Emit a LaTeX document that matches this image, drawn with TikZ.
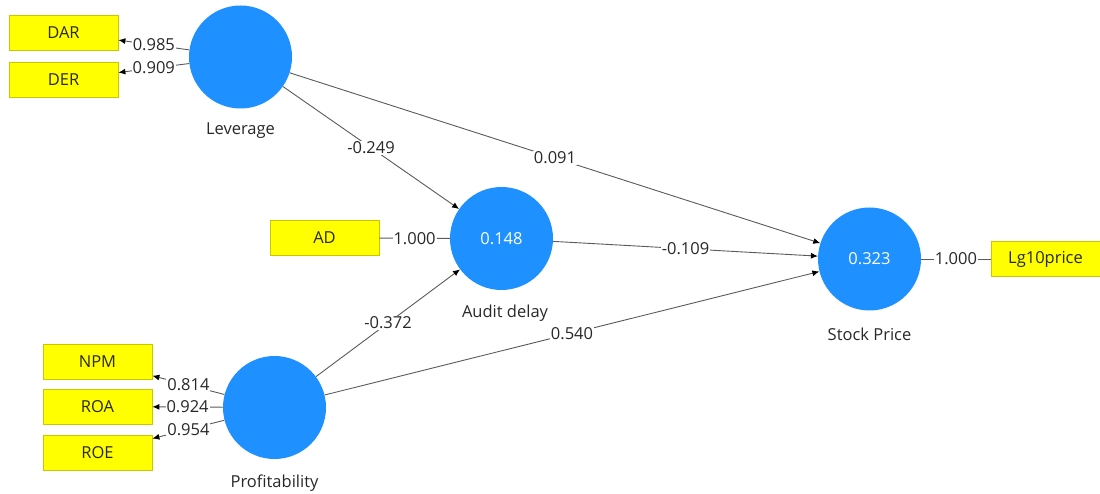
\documentclass[tikz,border=0pt]{standalone}
\usepackage{fontspec}
\setmainfont{Open Sans}
\usetikzlibrary{arrows.meta}
\definecolor{lvblue}{RGB}{30,144,255}
\definecolor{mvyellow}{RGB}{255,255,0}
\definecolor{mvborder}{RGB}{200,200,0}
\definecolor{edgegray}{RGB}{90,90,90}
\definecolor{txt}{RGB}{40,40,40}
\tikzset{
  latent/.style={circle, minimum size=103pt, inner sep=0pt, fill=lvblue, draw=none,
    text=white, font=\fontsize{16.5}{19}\selectfont},
  indicator/.style={rectangle, minimum width=109pt, minimum height=35pt, inner sep=0pt,
    fill=mvyellow, draw=mvborder, line width=0.8pt, text=txt, font=\fontsize{16.5}{19}\selectfont},
  caption/.style={text=txt, font=\fontsize{16.5}{19}\selectfont, inner sep=0pt},
  coef/.style={midway, fill=white, inner sep=1pt, text=txt, font=\fontsize{16.5}{19}\selectfont},
  path/.style={draw=edgegray, line width=0.9pt, -{Latex[length=7pt,width=6pt,color=black]}},
  link/.style={draw=edgegray, line width=0.9pt}
}
\begin{document}
\begin{tikzpicture}[x=1pt,y=-1pt]
\useasboundingbox (0,0) rectangle (1100,494);

% latent variables
\node[latent] (lev) at (240.5,57) {};
\node[latent] (aud) at (501.5,238.5) {0.148};
\node[latent] (stk) at (869.5,259) {0.323};
\node[latent] (prf) at (274.5,407.5) {};

\node[caption] (levc) at (240.5,131) {Leverage};
\node[caption] (audc) at (505,313) {Audit delay};
\node[caption] (stkc) at (869.5,334) {Stock Price};
\node[caption] (prfc) at (274.5,483) {Profitability};

% indicators
\node[indicator] (dar) at (63.5,32.5) {DAR};
\node[indicator] (der) at (63.5,79.5) {DER};
\node[indicator] (ad) at (324.5,238) {AD};
\node[indicator] (npm) at (97.5,361.5) {NPM};
\node[indicator] (roa) at (97.5,406.5) {ROA};
\node[indicator] (roe) at (97.5,452.5) {ROE};
\node[indicator] (lg) at (1045.5,259) {Lg10price};

% outer loadings
\draw[path] (lev) -- (dar) node[coef] {0.985};
\draw[path] (lev) -- (der) node[coef] {0.909};
\draw[path] (prf) -- (npm) node[coef] {0.814};
\draw[path] (prf) -- (roa) node[coef] {0.924};
\draw[path] (prf) -- (roe) node[coef] {0.954};
\draw[link] (ad) -- (aud) node[coef] {1.000};
\draw[link] (stk) -- (lg) node[coef] {1.000};

% structural paths
\draw[path] (lev) -- (aud) node[coef] {-0.249};
\draw[path] (lev) -- (stk) node[coef] {0.091};
\draw[path] (aud) -- (stk) node[coef] {-0.109};
\draw[path] (prf) -- (aud) node[coef] {-0.372};
\draw[path] (prf) -- (stk) node[coef] {0.540};
\end{tikzpicture}
\end{document}
